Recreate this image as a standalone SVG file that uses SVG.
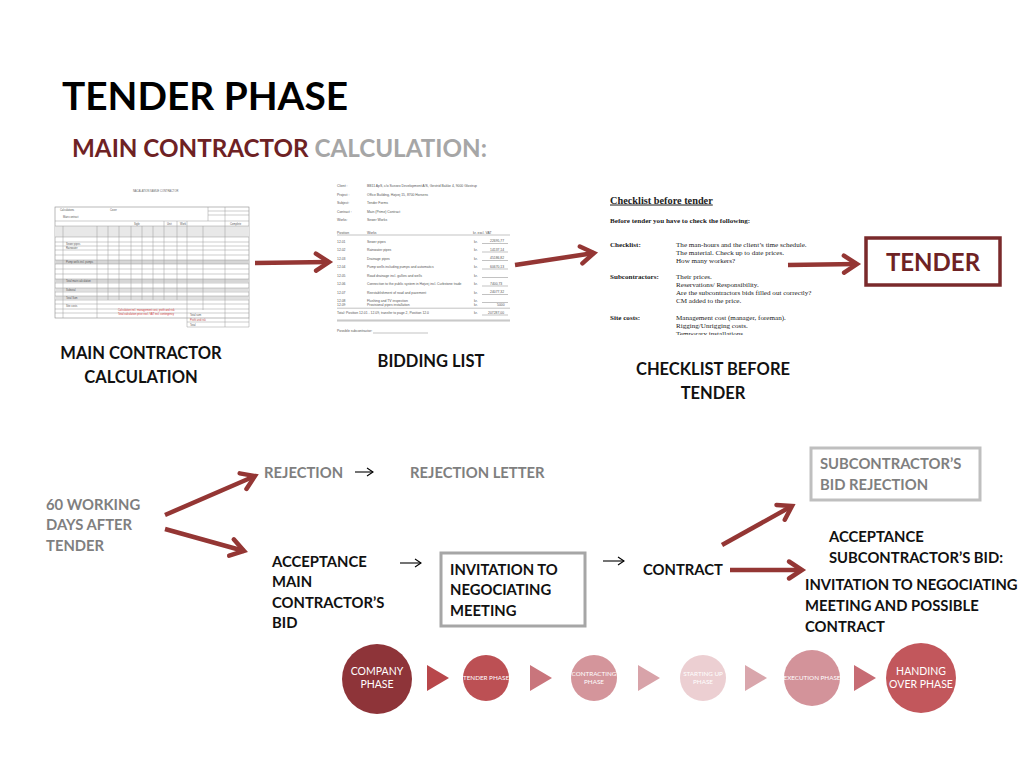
<svg xmlns="http://www.w3.org/2000/svg" width="1024" height="768" viewBox="0 0 1024 768">
<defs>
<style>
.b{font-family:Lato,"Open Sans","Liberation Sans",sans-serif;font-weight:bold}
.blk{fill:#111}
.gry{fill:#7f7f7f}
.lbl{font-size:16.5px}
.sm{font-size:14.8px}
.ser{font-family:"Liberation Serif",serif;fill:#222}
.bl{font-family:"Liberation Sans",Arial,sans-serif;font-size:3.4px;fill:#555}
.grid line{stroke:#9a9a9a;stroke-width:0.5}
.ph{font-family:Lato,"Open Sans",sans-serif;fill:#fff;text-anchor:middle}
.thick{stroke:#943634;stroke-width:4.5;fill:none;marker-end:url(#ah)}
.thin{stroke:#000;stroke-width:1.1;fill:none;marker-end:url(#th)}
</style>
<marker id="ah" markerUnits="userSpaceOnUse" markerWidth="24" markerHeight="24" viewBox="0 0 24 24" refX="19" refY="12" orient="auto">
<path d="M6,3.5 L19,12 L6,20.5" fill="none" stroke="#943634" stroke-width="4.5" stroke-linecap="round"/>
</marker>
<marker id="th" markerUnits="userSpaceOnUse" markerWidth="12" markerHeight="12" viewBox="0 0 12 12" refX="10" refY="6" orient="auto">
<path d="M4,2 L10,6 L4,10" fill="none" stroke="#000" stroke-width="1.1"/>
</marker>
<clipPath id="ckclip"><rect x="600" y="185" width="220" height="150"/></clipPath>
</defs>
<rect width="1024" height="768" fill="#fff"/>

<g id="title">
<text x="62" y="110" class="b" font-size="38.8" fill="#000">TENDER PHASE</text>
<text x="72" y="157" class="b" font-size="24.2"><tspan fill="#6e2224">MAIN CONTRACTOR </tspan><tspan fill="#a6a6a6">CALCULATION:</tspan></text>
</g>

<g id="spreadsheet">
<text x="133" y="192" font-family="Liberation Sans,sans-serif" font-size="2.6" fill="#666">NACALATION SAMUE CONTRACTOR</text>
<rect x="55" y="207" width="194" height="111" fill="#fff" stroke="#8a8a8a" stroke-width="0.6"/>
<rect x="55" y="260" width="194" height="4" fill="#d6d6d6"/>
<rect x="55" y="279" width="194" height="3.5" fill="#d6d6d6"/>
<rect x="55" y="288" width="194" height="3.5" fill="#e0e0e0"/>
<rect x="55" y="296" width="194" height="3.5" fill="#e0e0e0"/>
<rect x="55" y="226" width="194" height="11" fill="#e8e8e8"/>
<g class="grid">
<line x1="55" y1="221" x2="249" y2="221"/>
<line x1="55" y1="226" x2="249" y2="226"/>
<line x1="55" y1="237" x2="249" y2="237"/>
<line x1="55" y1="242" x2="249" y2="242"/>
<line x1="55" y1="246" x2="249" y2="246"/>
<line x1="55" y1="250" x2="249" y2="250"/>
<line x1="55" y1="255" x2="249" y2="255"/>
<line x1="55" y1="260" x2="249" y2="260"/>
<line x1="55" y1="264" x2="249" y2="264"/>
<line x1="55" y1="269" x2="249" y2="269"/>
<line x1="55" y1="274" x2="249" y2="274"/>
<line x1="55" y1="279" x2="249" y2="279"/>
<line x1="55" y1="283" x2="249" y2="283"/>
<line x1="55" y1="288" x2="249" y2="288"/>
<line x1="55" y1="292" x2="249" y2="292"/>
<line x1="55" y1="296" x2="249" y2="296"/>
<line x1="55" y1="300" x2="249" y2="300"/>
<line x1="55" y1="304" x2="249" y2="304"/>
<line x1="55" y1="309" x2="249" y2="309"/>
<line x1="55" y1="313" x2="249" y2="313"/>
<line x1="63" y1="226" x2="63" y2="318"/>
<line x1="97" y1="226" x2="97" y2="318"/>
<line x1="108" y1="226" x2="108" y2="300"/>
<line x1="119" y1="226" x2="119" y2="300"/>
<line x1="131" y1="226" x2="131" y2="300"/>
<line x1="142" y1="226" x2="142" y2="300"/>
<line x1="153" y1="226" x2="153" y2="300"/>
<line x1="164" y1="221" x2="164" y2="300"/>
<line x1="177" y1="221" x2="177" y2="300"/>
<line x1="187" y1="221" x2="187" y2="327"/>
<line x1="203" y1="226" x2="203" y2="310"/>
<line x1="225" y1="207" x2="225" y2="327"/>
<line x1="208" y1="207" x2="208" y2="221"/>
<line x1="208" y1="211" x2="249" y2="211"/>
<line x1="208" y1="215" x2="249" y2="215"/>
<line x1="187" y1="322" x2="249" y2="322"/>
<line x1="187" y1="327" x2="249" y2="327"/>
<line x1="249" y1="318" x2="249" y2="327"/>
</g>
<g font-family="Liberation Sans,sans-serif" font-size="2.6" fill="#555">
<text x="60" y="211">Calculations</text><text x="110" y="211">Cover</text>
<text x="63" y="218">Main contract</text>
<text x="134" y="224.5">Sigle</text><text x="167" y="224.5">Unit</text><text x="180" y="224.5">Work</text><text x="230" y="224.5">Complete</text>
<text x="66" y="245">Sewer pipes</text><text x="66" y="249">Rainwater</text>
<text x="66" y="263">Pump wells incl. pumps</text>
<text x="66" y="282">Total main calculation</text>
<text x="66" y="290.5">Subtotal</text><text x="66" y="298.5">Total Sum</text>
<text x="66" y="307">Site costs</text>
<text x="190" y="316">Total sum</text><text x="190" y="325.5">Total</text>
</g>
<g font-family="Liberation Sans,sans-serif" font-size="2.6" fill="#d03a3a">
<text x="118" y="311">Calculation incl. management cost, profit and risk</text>
<text x="118" y="314.5">Total calculation price excl. VAT incl. contingency</text>
<text x="190" y="320.5" fill="#c04a4a">Profit and risk</text>
</g>
</g>

<g id="bidding-list">
<g class="bl">
<text x="337" y="187">Client :</text><text x="367" y="187">BB11 ApS, c/o Sussex Development A/S, Gestrid Bakke 4, 9000 Glostrup</text>
<text x="337" y="195.5">Project :</text><text x="367" y="195.5">Office Building, Højvej 15, 8700 Horsens</text>
<text x="337" y="204">Subject:</text><text x="367" y="204">Tender Forms</text>
<text x="337" y="212.5">Contract :</text><text x="367" y="212.5">Main (Prime) Contract</text>
<text x="337" y="221">Works:</text><text x="367" y="221">Sewer Works</text>
<text x="337" y="233.5">Position</text><text x="367" y="233.5">Works</text><text x="473" y="233.5">kr. excl. VAT</text>
<text x="337" y="242.5">12.01</text><text x="367" y="242.5">Sewer pipes</text><text x="474" y="242.5">kr.</text><text x="490" y="242">22695,77</text>
<text x="337" y="251">12.02</text><text x="367" y="251">Rainwater pipes</text><text x="474" y="251">kr.</text><text x="490" y="250.5">14137,14</text>
<text x="337" y="259.5">12.03</text><text x="367" y="259.5">Drainage pipes</text><text x="474" y="259.5">kr.</text><text x="490" y="259">45186,82</text>
<text x="337" y="268">12.04</text><text x="367" y="268">Pump wells including pumps and automatics</text><text x="474" y="268">kr.</text><text x="490" y="267.5">60670,13</text>
<text x="337" y="276.5">12.05</text><text x="367" y="276.5">Road drainage incl. gullies and wells</text><text x="474" y="276.5">kr.</text>
<text x="337" y="285">12.06</text><text x="367" y="285">Connection to the public system in Højvej incl. Curbstone trade</text><text x="474" y="285">kr.</text><text x="490" y="284.5">7400,73</text>
<text x="337" y="293.5">12.07</text><text x="367" y="293.5">Reestablishment of road and pavement</text><text x="474" y="293.5">kr.</text><text x="490" y="293">24077,32</text>
<text x="337" y="301.5">12.08</text><text x="367" y="301.5">Flushing and TV inspection</text><text x="474" y="301.5">kr.</text>
<text x="337" y="306">12.09</text><text x="367" y="306">Provisional pipes installation</text><text x="474" y="306">kr.</text><text x="497" y="305.5">5000</text>
<text x="337" y="314">Total: Position 12.01 - 12.09, transfer to page 2, Position 12.0</text><text x="474" y="314">kr.</text><text x="488" y="313.5">207287,00</text>
<text x="337" y="332">Possible subcontractor:</text>
</g>
<g stroke="#666" stroke-width="0.4">
<line x1="337" y1="235" x2="510" y2="235"/>
<line x1="482" y1="243.5" x2="508" y2="243.5"/>
<line x1="482" y1="252" x2="508" y2="252"/>
<line x1="482" y1="260.5" x2="508" y2="260.5"/>
<line x1="482" y1="269" x2="508" y2="269"/>
<line x1="482" y1="277.5" x2="508" y2="277.5"/>
<line x1="482" y1="286" x2="508" y2="286"/>
<line x1="482" y1="294.5" x2="508" y2="294.5"/>
<line x1="482" y1="302.5" x2="508" y2="302.5"/>
<line x1="337" y1="308.2" x2="510" y2="308.2"/>
<line x1="482" y1="315" x2="508" y2="315"/>
<line x1="337" y1="320" x2="510" y2="320"/>
<line x1="337" y1="321" x2="510" y2="321"/>
<line x1="373" y1="333" x2="428" y2="333"/>
</g>
</g>

<g id="checklist" clip-path="url(#ckclip)">
<text x="610" y="203.5" class="ser" font-size="10.3" font-weight="bold" text-decoration="underline">Checklist before tender</text>
<text x="610" y="223" class="ser" font-size="7.1" font-weight="bold">Before tender you have to check the following:</text>
<g class="ser" font-size="7.1">
<text x="610" y="247" font-weight="bold">Checklist:</text>
<text x="676" y="247">The man-hours and the client’s time schedule.</text>
<text x="676" y="255">The material. Check up to date prices.</text>
<text x="676" y="263">How many workers?</text>
<text x="610" y="279" font-weight="bold">Subcontractors:</text>
<text x="676" y="279">Their prices.</text>
<text x="676" y="287">Reservations/ Responsibility.</text>
<text x="676" y="295">Are the subcontractors bids filled out correctly?</text>
<text x="676" y="303">CM added to the price.</text>
<text x="610" y="320" font-weight="bold">Site costs:</text>
<text x="676" y="320">Management cost (manager, foreman).</text>
<text x="676" y="328">Rigging/Unrigging costs.</text>
<text x="676" y="336">Temporary installations.</text>
</g>
</g>

<g id="tender-box">
<rect x="866" y="238" width="134" height="47" fill="#fff" stroke="#7a2a2b" stroke-width="3.5"/>
<text x="933" y="271" class="b" font-size="24" fill="#6e2224" text-anchor="middle">TENDER</text>
</g>

<g id="doc-labels" class="b blk lbl" text-anchor="middle">
<text x="141" y="359">MAIN CONTRACTOR</text>
<text x="141" y="383">CALCULATION</text>
<text x="431" y="367">BIDDING LIST</text>
<text x="713" y="375">CHECKLIST BEFORE</text>
<text x="713" y="399">TENDER</text>
</g>

<g id="working-days" class="b gry sm">
<text x="46" y="510">60 WORKING</text>
<text x="46" y="530">DAYS AFTER</text>
<text x="46" y="551">TENDER</text>
</g>
<g id="rejection" class="b gry sm">
<text x="264" y="478">REJECTION</text>
</g>
<g id="rejection-letter" class="b gry sm">
<text x="410" y="478">REJECTION LETTER</text>
</g>
<g id="acceptance-main" class="b blk sm">
<text x="272" y="567">ACCEPTANCE</text>
<text x="272" y="587">MAIN</text>
<text x="272" y="608">CONTRACTOR’S</text>
<text x="272" y="628">BID</text>
</g>
<g id="invitation">
<rect x="441" y="553" width="144" height="73" fill="#fff" stroke="#a6a6a6" stroke-width="3"/>
<g class="b blk sm">
<text x="450" y="575">INVITATION TO</text>
<text x="450" y="595">NEGOCIATING</text>
<text x="450" y="616">MEETING</text>
</g>
</g>
<g id="contract" class="b blk sm">
<text x="643" y="575">CONTRACT</text>
</g>
<g id="sub-rejection">
<rect x="811" y="448" width="169" height="52" fill="#fff" stroke="#bfbfbf" stroke-width="3"/>
<g class="b gry sm">
<text x="820" y="469">SUBCONTRACTOR’S</text>
<text x="820" y="490">BID REJECTION</text>
</g>
</g>
<g id="sub-acceptance" class="b blk sm">
<text x="829" y="542">ACCEPTANCE</text>
<text x="829" y="563">SUBCONTRACTOR’S BID:</text>
<text x="805" y="590">INVITATION TO NEGOCIATING</text>
<text x="805" y="611">MEETING AND POSSIBLE</text>
<text x="805" y="632">CONTRACT</text>
</g>

<g id="connectors">
<path class="thick" d="M255,263 L329,262"/>
<path class="thick" d="M515,265 L594,253"/>
<path class="thick" d="M788,265 L857,264"/>
<path class="thick" d="M165,515 L255,476"/>
<path class="thick" d="M165,529 L244,551"/>
<path class="thick" d="M722,545 L792,506"/>
<path class="thick" d="M730,570 L802,570"/>
<path class="thin" d="M355,472 L373,472"/>
<path class="thin" d="M400,563 L421,563"/>
<path class="thin" d="M603,561 L624,561"/>
</g>

<g id="phases">
<g id="phase-company"><circle cx="377" cy="679" r="35" fill="#8e3439"/>
<text class="ph" x="377" y="675" font-size="10.5">COMPANY</text><text class="ph" x="377" y="688" font-size="10.5">PHASE</text></g>
<polygon points="427,665 449,678 427,691" fill="#b8474b"/>
<g id="phase-tender"><circle cx="486" cy="678" r="23" fill="#bc5054"/>
<text class="ph" x="486" y="680" font-size="6.3">TENDER PHASE</text></g>
<polygon points="530,665 552,678 530,691" fill="#c9757c"/>
<g id="phase-contracting"><circle cx="594" cy="678" r="23" fill="#d4959b"/>
<text class="ph" x="594" y="676" font-size="6.3">CONTRACTING</text><text class="ph" x="594" y="684" font-size="6.3">PHASE</text></g>
<polygon points="638,665 660,678 638,691" fill="#d8a3a9"/>
<g id="phase-starting"><circle cx="703" cy="678" r="23" fill="#eccfd2"/>
<text class="ph" x="703" y="676" font-size="6.3">STARTING UP</text><text class="ph" x="703" y="684" font-size="6.3">PHASE</text></g>
<polygon points="745,665 767,678 745,691" fill="#d9a6ac"/>
<g id="phase-execution"><circle cx="812" cy="678" r="28" fill="#d3939a"/>
<text class="ph" x="812" y="680" font-size="6.3">EXECUTION PHASE</text></g>
<polygon points="854,665 876,678 854,691" fill="#c76c74"/>
<g id="phase-handing"><circle cx="921" cy="678" r="35" fill="#c2575c"/>
<text class="ph" x="921" y="675" font-size="10.5">HANDING</text><text class="ph" x="921" y="688" font-size="10.5">OVER PHASE</text></g>
</g>
</svg>
